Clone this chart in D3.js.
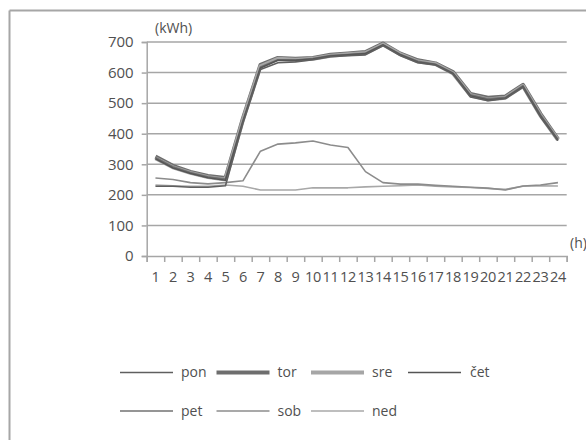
<!DOCTYPE html>
<html>
<head>
<meta charset="utf-8">
<script src="https://cdn.jsdelivr.net/npm/d3@7"></script>
<style>
  body { margin: 0; background: #fff; }
  svg text { font-family: "Open Sans", sans-serif; fill: #505050; }
</style>
</head>
<body>
<div id="chart"></div>
<script>
const width = 586;
const height = 440;

// hours on the x axis
const hours = [1, 2, 3, 4, 5, 6, 7, 8, 9, 10, 11, 12, 13, 14, 15, 16, 17, 18, 19, 20, 21, 22, 23, 24];
const yTicks = [0, 100, 200, 300, 400, 500, 600, 700];

// consumption per day (kWh)
const pon = [228, 228, 225, 225, 230, 435, 610, 632, 635, 642, 652, 655, 658, 688, 655, 632, 625, 595, 520, 508, 515, 552, 455, 378];
const tor = [325, 295, 275, 262, 255, 450, 625, 648, 645, 648, 658, 662, 667, 695, 662, 640, 630, 602, 530, 518, 522, 560, 465, 382];
const sre = [320, 290, 272, 258, 250, 445, 620, 645, 642, 645, 655, 660, 664, 692, 660, 636, 628, 598, 526, 512, 518, 556, 460, 380];
const cet = [318, 288, 270, 256, 248, 440, 615, 640, 640, 644, 654, 658, 662, 690, 658, 634, 626, 597, 524, 510, 516, 554, 458, 378];
const pet = [322, 292, 273, 259, 252, 442, 618, 642, 641, 646, 656, 659, 663, 691, 659, 637, 627, 599, 527, 514, 519, 557, 462, 381];
const sob = [255, 250, 240, 236, 240, 246, 343, 366, 370, 376, 363, 355, 276, 240, 235, 235, 231, 228, 225, 222, 216, 229, 232, 240];
const ned = [232, 230, 228, 228, 232, 228, 216, 216, 216, 223, 223, 223, 226, 228, 230, 232, 228, 226, 224, 221, 218, 228, 230, 229];

const dayNames = ["pon", "tor", "sre", "čet", "pet", "sob", "ned"];
const dayValues = [pon, tor, sre, cet, pet, sob, ned];

// line look per day
const style = {
    "pon": {color: "#5f5f5f", w: 1.6},
    "tor": {color: "#6e6e6e", w: 4},
    "sre": {color: "#a6a6a6", w: 4},
    "čet": {color: "#555555", w: 1.6},
    "pet": {color: "#727272", w: 1.6},
    "sob": {color: "#8c8c8c", w: 1.6},
    "ned": {color: "#a8a8a8", w: 1.6}
};

const margin = ({top: 42, right: 19.3, bottom: 184, left: 146.7});

let svg = d3.select("#chart")
    .append("svg")
    .attr("width", width)
    .attr("height", height);

// outer frame (left and top edges visible)
svg.append("line")
    .attr("x1", 9.5).attr("x2", 9.5)
    .attr("y1", 10.5).attr("y2", height)
    .attr("stroke", "#a6a6a6").attr("stroke-width", 2);
svg.append("line")
    .attr("x1", 9.5).attr("x2", width)
    .attr("y1", 10.5).attr("y2", 10.5)
    .attr("stroke", "#a6a6a6").attr("stroke-width", 2);

let xBand = d3.scaleBand()
    .domain(hours)
    .range([margin.left, width - margin.right]);

let xEdge = d3.scaleLinear()
    .domain([0, hours.length])
    .range([margin.left, width - margin.right]);

let yScale = d3.scaleLinear()
    .domain([0, 700])
    .range([height - margin.bottom, margin.top]);

// grid
svg.append("g")
    .selectAll("line")
    .data(yTicks.slice(1))
    .join("line")
    .attr("x1", margin.left)
    .attr("x2", width - margin.right)
    .attr("y1", d => yScale(d))
    .attr("y2", d => yScale(d))
    .attr("stroke", "#a6a6a6")
    .attr("stroke-width", 1.5);

// y axis
let yAxis = svg.append("g")
    .attr("transform", "translate(" + margin.left + ",0)")
    .call(d3.axisLeft(yScale).tickValues(yTicks).tickSize(5).tickPadding(8));
yAxis.selectAll("line, path").attr("stroke", "#a6a6a6").attr("stroke-width", 1.5);
yAxis.selectAll("text").style("font-size", "15px").attr("fill", "#505050");

// x axis tick marks at band edges
let xAxis = svg.append("g")
    .attr("transform", "translate(0," + yScale(0) + ")")
    .call(d3.axisBottom(xEdge).tickValues(d3.range(0, hours.length + 1)).tickFormat("").tickSize(6));
xAxis.selectAll("line, path").attr("stroke", "#a6a6a6").attr("stroke-width", 1.5);

// x labels at band centers
let xLabels = svg.append("g")
    .attr("transform", "translate(0," + yScale(0) + ")")
    .call(d3.axisBottom(xBand).tickSize(0).tickPadding(16));
xLabels.select(".domain").remove();
xLabels.selectAll("text").style("font-size", "14.5px").style("letter-spacing", "-0.3px").attr("fill", "#505050");

// unit labels
svg.append("text")
    .attr("x", 155)
    .attr("y", 33)
    .style("font-size", "14px")
    .text("(kWh)");
svg.append("text")
    .attr("x", 570)
    .attr("y", 248)
    .style("font-size", "14px")
    .text("(h)");

// lines
let line = d3.line()
    .x((d, i) => xBand(hours[i]) + xBand.bandwidth() / 2)
    .y(d => yScale(d));

const drawOrder = ["ned", "sob", "tor", "sre", "pet", "čet", "pon"];
drawOrder.forEach(function (name) {
    let values = dayValues[dayNames.indexOf(name)];
    svg.append("path")
        .datum(values)
        .attr("fill", "none")
        .attr("stroke", style[name].color)
        .attr("stroke-width", style[name].w)
        .attr("stroke-linejoin", "round")
        .attr("d", line);
});

// legend
const legendX = [120, 216.5, 311, 408];
const legendY = [372.5, 411];
dayNames.forEach(function (name, i) {
    let row = Math.floor(i / 4);
    let col = i % 4;
    let g = svg.append("g")
        .attr("transform", "translate(" + legendX[col] + "," + legendY[row] + ")");
    g.append("line")
        .attr("x1", 0).attr("x2", 53)
        .attr("y1", 0).attr("y2", 0)
        .attr("stroke", style[name].color)
        .attr("stroke-width", style[name].w);
    g.append("text")
        .attr("x", col === 3 ? 62 : 61)
        .attr("y", 0)
        .attr("dy", "0.35em")
        .style("font-size", "14px")
        .text(name);
});
</script>
</body>
</html>
